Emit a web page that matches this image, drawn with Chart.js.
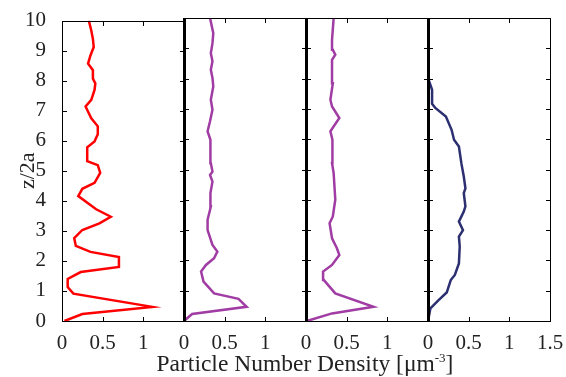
<!DOCTYPE html>
<html lang="en">
<head>
<meta charset="UTF-8">
<title>Particle Number Density</title>
<script src="https://cdn.jsdelivr.net/npm/chart.js"></script>
<style>
  body { margin: 0; background: #fff; }
  #wrap { position: relative; width: 566px; height: 377px; font-family: "Liberation Serif", "Times New Roman", serif; color: #222; }
  #wrap canvas { position: absolute; top: 0; }
  #xtitle { position: absolute; left: 105px; width: 400px; top: 345px; text-align: center; font-size: 23.5px; line-height: 26px; }
  #xtitle sup { font-size: 13px; }
</style>
</head>
<body>
<div id="wrap">
  <canvas id="p0"></canvas>
  <canvas id="p1"></canvas>
  <canvas id="p2"></canvas>
  <canvas id="p3"></canvas>
  <div id="xtitle">Particle Number Density [μm<sup>-3</sup>]</div>
</div>

<script>
// z/2a positions and densities
const zRed = [0,0.23,0.47,0.91,1.13,1.4,1.63,1.8,2.13,2.3,2.5,2.76,3.03,3.25,3.47,3.72,4.16,4.4,4.6,4.93,5.19,5.32,5.78,5.98,6.22,6.48,6.75,7.14,7.36,7.69,7.91,8.07,8.35,8.57,8.84,9.12,9.39,9.67,10];
const densRed = [0.03,0.25,1.11,0.14,0.07,0.07,0.23,0.70,0.70,0.35,0.17,0.15,0.25,0.46,0.60,0.42,0.20,0.25,0.40,0.47,0.44,0.31,0.31,0.40,0.44,0.44,0.36,0.29,0.36,0.40,0.41,0.38,0.38,0.32,0.35,0.39,0.38,0.36,0.33];

const zA = [0,0.23,0.47,0.73,0.91,1.3,1.63,1.85,2.07,2.29,2.51,3.0,3.34,3.78,4.0,4.22,4.6,4.82,4.93,5.21,5.65,5.98,6.26,6.59,6.97,7.3,7.74,8.02,8.29,8.57,8.84,9.17,9.5,10];
const densA = [0,0.10,0.77,0.67,0.37,0.24,0.21,0.27,0.37,0.41,0.35,0.29,0.29,0.33,0.33,0.32,0.35,0.32,0.35,0.33,0.33,0.32,0.29,0.32,0.35,0.33,0.36,0.35,0.33,0.35,0.33,0.35,0.36,0.32];

const zB = [0,0.25,0.47,0.91,1.35,1.63,1.85,2.18,2.4,2.73,3.23,3.45,4.0,4.44,4.88,5.21,5.76,5.98,6.26,6.7,7.08,7.3,7.85,8.62,8.79,8.95,9.28,10];
const densB = [0.01,0.32,0.83,0.36,0.22,0.21,0.32,0.41,0.38,0.32,0.29,0.33,0.36,0.35,0.34,0.32,0.33,0.32,0.30,0.41,0.32,0.30,0.33,0.32,0.36,0.33,0.32,0.34];

const zC = [0,0.42,0.69,0.94,1.35,1.52,1.9,2.46,2.79,3.0,3.28,3.61,3.78,4.22,4.38,4.77,5.21,5.76,5.98,6.31,6.75,7.03,7.17,7.63,7.87,8.02];
const densC = [0,0.03,0.13,0.23,0.28,0.33,0.38,0.39,0.38,0.43,0.38,0.44,0.46,0.44,0.46,0.44,0.41,0.38,0.32,0.29,0.22,0.09,0.05,0.05,0.02,0.00];

const xTicks = [0, 0.5, 1, 1.5];
const yTicks = [0,1,2,3,4,5,6,7,8,9,10];

const panels = [
  { z: zRed, d: densRed, color: '#ff0000' },
  { z: zA,   d: densA,   color: '#a03ca3' },
  { z: zB,   d: densB,   color: '#a03ca3' },
  { z: zC,   d: densC,   color: '#2c3070' }
];

const PAD = 16;
const TITLE_GAP = 15;
const panelLeft = [62, 184, 306, 428];
const panelW = 122;
const H = 377;
const tickFont = { family: '"Liberation Serif", "Times New Roman", serif', size: 21 };

// box, inward ticks and the thick zero line, drawn as filled rects
const framePlugin = {
  id: 'frame',
  afterDraw(chart, args, opts) {
    const ctx = chart.ctx;
    const xs = chart.scales.x, ys = chart.scales.y;
    const L = Math.round(xs.getPixelForValue(0));
    const R = Math.round(xs.getPixelForValue(1.5));
    const T = Math.round(ys.getPixelForValue(10));
    const B = Math.round(ys.getPixelForValue(0));
    ctx.save();
    ctx.fillStyle = '#000';
    ctx.fillRect(L, T, R - L + 1, 1);
    ctx.fillRect(L, B, R - L + 1, 1);
    ctx.fillRect(L, T, 1, B - T + 1);
    ctx.fillRect(R, T, 1, B - T + 1);
    yTicks.forEach(v => {
      const y = Math.round(ys.getPixelForValue(v));
      ctx.fillRect(L, y, 5, 1);
      ctx.fillRect(R - 4, y, 5, 1);
    });
    xTicks.forEach(v => {
      const x = Math.round(xs.getPixelForValue(v));
      ctx.fillRect(x, T, 1, 5);
      ctx.fillRect(x, B - 4, 1, 5);
    });
    if (opts.zeroLine) {
      ctx.fillRect(L - 1, T, 3, B - T + 1);
    }
    ctx.restore();
  }
};

panels.forEach((p, i) => {
  const first = i === 0, last = i === panels.length - 1;
  const canvas = document.getElementById('p' + i);
  const left = first ? 0 : panelLeft[i] - PAD;
  const width = first ? panelLeft[0] + panelW + PAD : panelW + 2 * PAD;
  canvas.width = width;
  canvas.height = H;
  canvas.style.left = left + 'px';
  canvas.style.width = width + 'px';
  canvas.style.height = H + 'px';

  new Chart(canvas, {
    type: 'scatter',
    data: {
      datasets: [{
        data: p.z.map((z, k) => ({ x: p.d[k], y: z })),
        showLine: true,
        borderColor: p.color,
        borderWidth: 2.5,
        pointRadius: 0,
        tension: 0
      }]
    },
    options: {
      responsive: false,
      animation: false,
      layout: { padding: { left: first ? TITLE_GAP : PAD, right: PAD, top: 18, bottom: 0 } },
      plugins: {
        legend: { display: false },
        tooltip: { enabled: false },
        frame: { zeroLine: !first }
      },
      scales: {
        x: {
          type: 'linear', min: 0, max: 1.5,
          afterBuildTicks: s => { s.ticks = xTicks.map(v => ({ value: v })); },
          afterFit: s => { s.height = H - 321; },
          grid: { display: false },
          border: { display: false },
          ticks: {
            autoSkip: false, maxRotation: 0, padding: 2,
            color: '#222', font: tickFont,
            callback: v => (v === 1.5 && !last) ? '' : String(v)
          }
        },
        y: {
          type: 'linear', min: 0, max: 10,
          display: first,
          afterBuildTicks: s => { s.ticks = yTicks.map(v => ({ value: v })); },
          afterFit: s => { if (first) s.width = panelLeft[0] - TITLE_GAP; },
          grid: { display: false },
          border: { display: false },
          title: { display: true, text: 'z/2a', color: '#222', font: { family: tickFont.family, size: 22 }, padding: 0 },
          ticks: { color: '#222', font: tickFont, padding: 8 }
        }
      }
    },
    plugins: [framePlugin]
  });
});
</script>
</body>
</html>
